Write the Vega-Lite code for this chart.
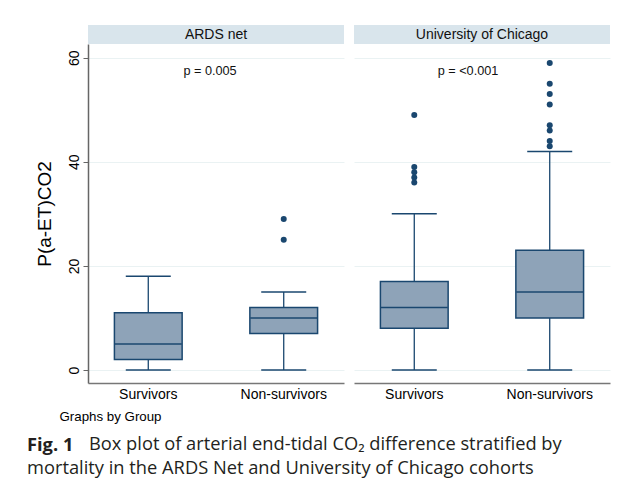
{
  "$schema": "https://vega.github.io/schema/vega-lite/v6.json",
  "autosize": {"type": "pad"},
  "padding": {"left": 27, "top": 25, "right": 8, "bottom": 5},
  "background": "white",
  "datasets": {
    "boxes": [
      {"group": "ARDS net", "outcome": "Survivors", "lo": 0, "q1": 2, "med": 5, "q3": 11, "hi": 18},
      {"group": "ARDS net", "outcome": "Non-survivors", "lo": 0, "q1": 7, "med": 10, "q3": 12, "hi": 15},
      {"group": "University of Chicago", "outcome": "Survivors", "lo": 0, "q1": 8, "med": 12, "q3": 17, "hi": 30},
      {"group": "University of Chicago", "outcome": "Non-survivors", "lo": 0, "q1": 10, "med": 15, "q3": 23, "hi": 42}
    ],
    "outliers": [
      {"group": "ARDS net", "outcome": "Non-survivors", "value": 25},
      {"group": "ARDS net", "outcome": "Non-survivors", "value": 29},
      {"group": "University of Chicago", "outcome": "Survivors", "value": 36},
      {"group": "University of Chicago", "outcome": "Survivors", "value": 37},
      {"group": "University of Chicago", "outcome": "Survivors", "value": 38},
      {"group": "University of Chicago", "outcome": "Survivors", "value": 39},
      {"group": "University of Chicago", "outcome": "Survivors", "value": 49},
      {"group": "University of Chicago", "outcome": "Non-survivors", "value": 43},
      {"group": "University of Chicago", "outcome": "Non-survivors", "value": 44},
      {"group": "University of Chicago", "outcome": "Non-survivors", "value": 46},
      {"group": "University of Chicago", "outcome": "Non-survivors", "value": 47},
      {"group": "University of Chicago", "outcome": "Non-survivors", "value": 51},
      {"group": "University of Chicago", "outcome": "Non-survivors", "value": 53},
      {"group": "University of Chicago", "outcome": "Non-survivors", "value": 55},
      {"group": "University of Chicago", "outcome": "Non-survivors", "value": 59}
    ],
    "pvals": [
      {"group": "ARDS net", "p": "p = 0.005"},
      {"group": "University of Chicago", "p": "p = <0.001"}
    ]
  },
  "title": {
    "text": "mortality in the ARDS Net and University of Chicago cohorts",
    "orient": "bottom", "anchor": "start", "frame": "bounds", "offset": 5.5,
    "font": "Open Sans", "fontSize": 18.3, "fontWeight": "normal", "color": "#231f20"
  },
  "vconcat": [
    {
      "title": {
        "text": "Box plot of arterial end-tidal CO\u2082 difference stratified by",
        "orient": "bottom", "anchor": "start", "frame": "bounds", "offset": -18.3, "dx": 62,
        "font": "Open Sans", "fontSize": 18.3, "fontWeight": "normal", "color": "#231f20"
      },
      "vconcat": [
        {
          "title": {
            "text": "Fig. 1",
            "orient": "bottom", "anchor": "start", "frame": "bounds", "offset": 14.5, "dx": -8,
            "font": "Open Sans", "fontSize": 18.3, "fontWeight": "bold", "color": "#231f20"
          },
          "spacing": 10,
          "hconcat": [
            {
              "spacing": 0,
              "bounds": "flush",
              "vconcat": [
                {
                  "width": 256,
                  "height": 19,
                  "view": {"fill": "#d9e5ec", "stroke": null},
                  "data": {"values": [{"group": "ARDS net"}]},
                  "mark": {"type": "text", "fontSize": 14, "font": "Liberation Sans", "color": "#111111"},
                  "encoding": {"text": {"field": "group", "type": "nominal"}}
                },
                {
                  "width": 256,
                  "height": 339,
                  "layer": [
                    {
                      "data": {"name": "boxes"},
                      "transform": [{"filter": "datum.group === 'ARDS net'"}],
                      "encoding": {
                        "x": {"field": "outcome", "type": "nominal", "sort": ["Survivors", "Non-survivors"], "title": "Graphs by Group",
                              "scale": {"paddingInner": 0.5, "paddingOuter": 0.195},
                              "axis": {"labelAngle": 0, "ticks": false, "labelPadding": 4, "labelFontSize": 14, "domainColor": "#777777", "domainWidth": 1.5, "grid": false,
                                       "titleFontSize": 13.3, "titleAnchor": "start", "titleAlign": "left", "titleX": -29, "titlePadding": 8}}
                      },
                      "layer": [
                        {"mark": {"type": "rule", "color": "#1a476f", "strokeWidth": 1.3},
                         "encoding": {"y": {"field": "lo", "type": "quantitative", "title": "P(a-ET)CO2", "scale": {"domain": [-2.5, 62.63], "nice": false, "zero": false},
                           "axis": {"values": [0, 20, 40, 60], "labelAngle": 270, "labelFontSize": 14, "labelPadding": 2, "tickSize": 5, "tickColor": "#666666", "domainColor": "#666666", "domainWidth": 1.5, "grid": true, "gridColor": "#eaf2f3", "titleFontSize": 19, "titlePadding": 13}},
                           "y2": {"field": "q1"}}},
                        {"mark": {"type": "rule", "color": "#1a476f", "strokeWidth": 1.3},
                         "encoding": {"y": {"field": "q3", "type": "quantitative", "title": "P(a-ET)CO2"}, "y2": {"field": "hi"}}},
                        {"mark": {"type": "bar", "fill": "#8ea3b8", "stroke": "#1a476f", "strokeWidth": 1.5, "fillOpacity": 1},
                         "encoding": {"y": {"field": "q1", "type": "quantitative", "title": "P(a-ET)CO2"}, "y2": {"field": "q3"}}},
                        {"mark": {"type": "tick", "color": "#1a476f", "thickness": 1.5, "size": 67, "opacity": 1},
                         "encoding": {"y": {"field": "med", "type": "quantitative", "title": "P(a-ET)CO2"}}},
                        {"mark": {"type": "tick", "color": "#1a476f", "thickness": 1.5, "size": 45, "opacity": 1},
                         "encoding": {"y": {"field": "lo", "type": "quantitative", "title": "P(a-ET)CO2"}}},
                        {"mark": {"type": "tick", "color": "#1a476f", "thickness": 1.5, "size": 45, "opacity": 1},
                         "encoding": {"y": {"field": "hi", "type": "quantitative", "title": "P(a-ET)CO2"}}},
                        {"data": {"name": "outliers"},
                         "transform": [{"filter": "datum.group === 'ARDS net'"}],
                         "mark": {"type": "circle", "color": "#1a476f", "size": 36, "opacity": 1},
                         "encoding": {"y": {"field": "value", "type": "quantitative", "title": "P(a-ET)CO2"}}}
                      ]
                    },
                    {
                      "data": {"name": "pvals"},
                      "transform": [{"filter": "datum.group === 'ARDS net'"}],
                      "mark": {"type": "text", "fontSize": 12.7, "font": "Liberation Sans", "color": "#111111", "dx": -6},
                      "encoding": {"y": {"datum": 57.5, "type": "quantitative"}, "text": {"field": "p", "type": "nominal"}}
                    }
                  ]
                }
              ]
            },
            {
              "spacing": 0,
              "bounds": "flush",
              "vconcat": [
                {
                  "width": 256,
                  "height": 19,
                  "view": {"fill": "#d9e5ec", "stroke": null},
                  "data": {"values": [{"group": "University of Chicago"}]},
                  "mark": {"type": "text", "fontSize": 14, "font": "Liberation Sans", "color": "#111111"},
                  "encoding": {"text": {"field": "group", "type": "nominal"}}
                },
                {
                  "width": 256,
                  "height": 339,
                  "layer": [
                    {
                      "data": {"name": "boxes"},
                      "transform": [{"filter": "datum.group === 'University of Chicago'"}],
                      "encoding": {
                        "x": {"field": "outcome", "type": "nominal", "sort": ["Survivors", "Non-survivors"], "title": null,
                              "scale": {"paddingInner": 0.5, "paddingOuter": 0.195},
                              "axis": {"labelAngle": 0, "ticks": false, "labelPadding": 4, "labelFontSize": 14, "domainColor": "#777777", "domainWidth": 1.5, "grid": false}}
                      },
                      "layer": [
                        {"mark": {"type": "rule", "color": "#1a476f", "strokeWidth": 1.3},
                         "encoding": {"y": {"field": "lo", "type": "quantitative", "title": null, "scale": {"domain": [-2.5, 62.63], "nice": false, "zero": false},
                           "axis": {"values": [0, 20, 40, 60], "labels": false, "ticks": false, "domain": false, "grid": true, "gridColor": "#eaf2f3", "title": null}},
                           "y2": {"field": "q1"}}},
                        {"mark": {"type": "rule", "color": "#1a476f", "strokeWidth": 1.3},
                         "encoding": {"y": {"field": "q3", "type": "quantitative", "title": null}, "y2": {"field": "hi"}}},
                        {"mark": {"type": "bar", "fill": "#8ea3b8", "stroke": "#1a476f", "strokeWidth": 1.5, "fillOpacity": 1},
                         "encoding": {"y": {"field": "q1", "type": "quantitative", "title": null}, "y2": {"field": "q3"}}},
                        {"mark": {"type": "tick", "color": "#1a476f", "thickness": 1.5, "size": 67, "opacity": 1},
                         "encoding": {"y": {"field": "med", "type": "quantitative", "title": null}}},
                        {"mark": {"type": "tick", "color": "#1a476f", "thickness": 1.5, "size": 45, "opacity": 1},
                         "encoding": {"y": {"field": "lo", "type": "quantitative", "title": null}}},
                        {"mark": {"type": "tick", "color": "#1a476f", "thickness": 1.5, "size": 45, "opacity": 1},
                         "encoding": {"y": {"field": "hi", "type": "quantitative", "title": null}}},
                        {"data": {"name": "outliers"},
                         "transform": [{"filter": "datum.group === 'University of Chicago'"}],
                         "mark": {"type": "circle", "color": "#1a476f", "size": 36, "opacity": 1},
                         "encoding": {"y": {"field": "value", "type": "quantitative", "title": null}}}
                      ]
                    },
                    {
                      "data": {"name": "pvals"},
                      "transform": [{"filter": "datum.group === 'University of Chicago'"}],
                      "mark": {"type": "text", "fontSize": 12.7, "font": "Liberation Sans", "color": "#111111", "dx": -14},
                      "encoding": {"y": {"datum": 57.5, "type": "quantitative"}, "text": {"field": "p", "type": "nominal"}}
                    }
                  ]
                }
              ]
            }
          ]
        }
      ]
    }
  ],
  "config": {
    "font": "Liberation Sans",
    "view": {"stroke": null},
    "axis": {"labelFont": "Liberation Sans", "titleFont": "Liberation Sans", "labelColor": "#000000", "titleColor": "#000000", "titleFontWeight": "normal"}
  }
}
